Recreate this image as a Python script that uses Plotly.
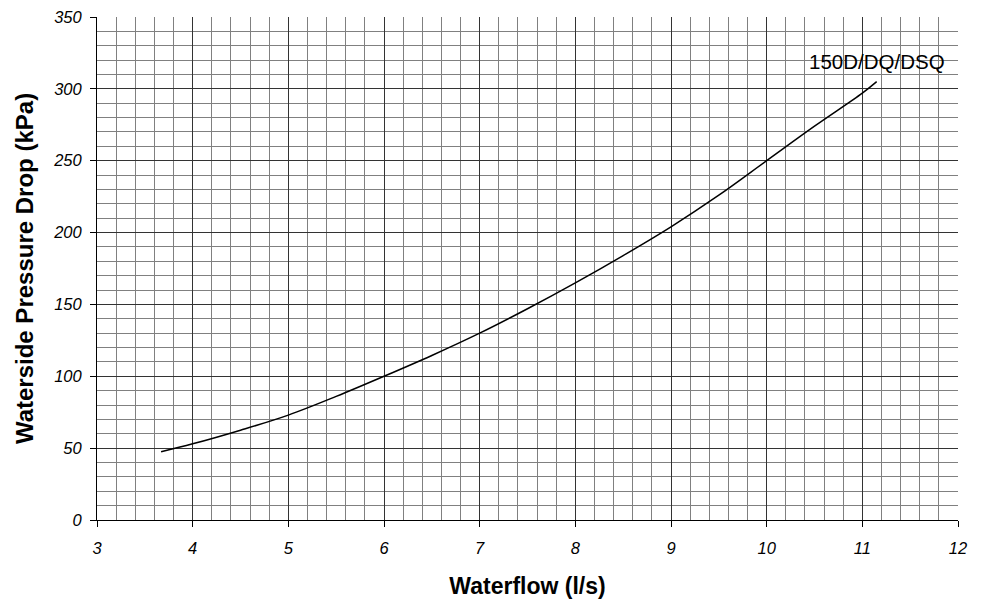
import plotly.graph_objects as go

flow = [3.67, 4.0, 4.5, 5.0, 5.5, 6.0, 6.5, 7.0, 7.5, 8.0, 8.5, 9.0, 9.5, 10.0, 10.5, 11.0, 11.15]
pressure = [47.5, 53, 62.5, 73, 86, 100, 114.5, 130, 147, 165, 184, 204, 226, 250, 274, 297, 305]
series_label = "150D/DQ/DSQ"

fig = go.Figure()
fig.add_trace(go.Scatter(x=flow, y=pressure, mode="lines", line=dict(color="black", width=1.5, shape="spline"),
                         showlegend=False, hoverinfo="x+y"))

fig.add_annotation(x=11.15, y=319, text=series_label, showarrow=False,
                   font=dict(family="Liberation Sans, Arial", size=20.5, color="black"))

axis_font = dict(family="Liberation Sans, Arial", size=16.5, color="black", style="italic")

fig.update_xaxes(range=[3, 12], dtick=1, tick0=3, showgrid=True, gridcolor="#333", gridwidth=1,
                 minor=dict(dtick=0.2, showgrid=True, gridcolor="#808080", gridwidth=1, ticks=""),
                 ticks="outside", ticklen=6, tickcolor="black", showline=True, linecolor="black", linewidth=1,
                 mirror=False, zeroline=False, tickfont=axis_font, ticklabelstandoff=7, automargin=False,
                 title=dict(text="<b>Waterflow (l/s)</b>",
                            font=dict(family="Liberation Sans, Arial", size=23, color="black"), standoff=22))
fig.update_yaxes(range=[0, 350], dtick=50, showgrid=True, gridcolor="#333", gridwidth=1,
                 minor=dict(dtick=10, showgrid=True, gridcolor="#808080", gridwidth=1, ticks=""),
                 ticks="outside", ticklen=6, tickcolor="black", showline=True, linecolor="black", linewidth=1,
                 zeroline=False, tickfont=axis_font, ticklabelstandoff=5, automargin=False,
                 title=dict(text="<b>Waterside Pressure Drop (kPa)</b>",
                            font=dict(family="Liberation Sans, Arial", size=24, color="black"), standoff=12))

fig.update_layout(width=981, height=599, plot_bgcolor="white", paper_bgcolor="white",
                  margin=dict(l=97, r=23, t=17, b=79),
                  font=dict(family="Liberation Sans, Arial"))

fig.write_html("out.html", post_script="document.body.style.margin='0';",
               config={"displayModeBar": False})
